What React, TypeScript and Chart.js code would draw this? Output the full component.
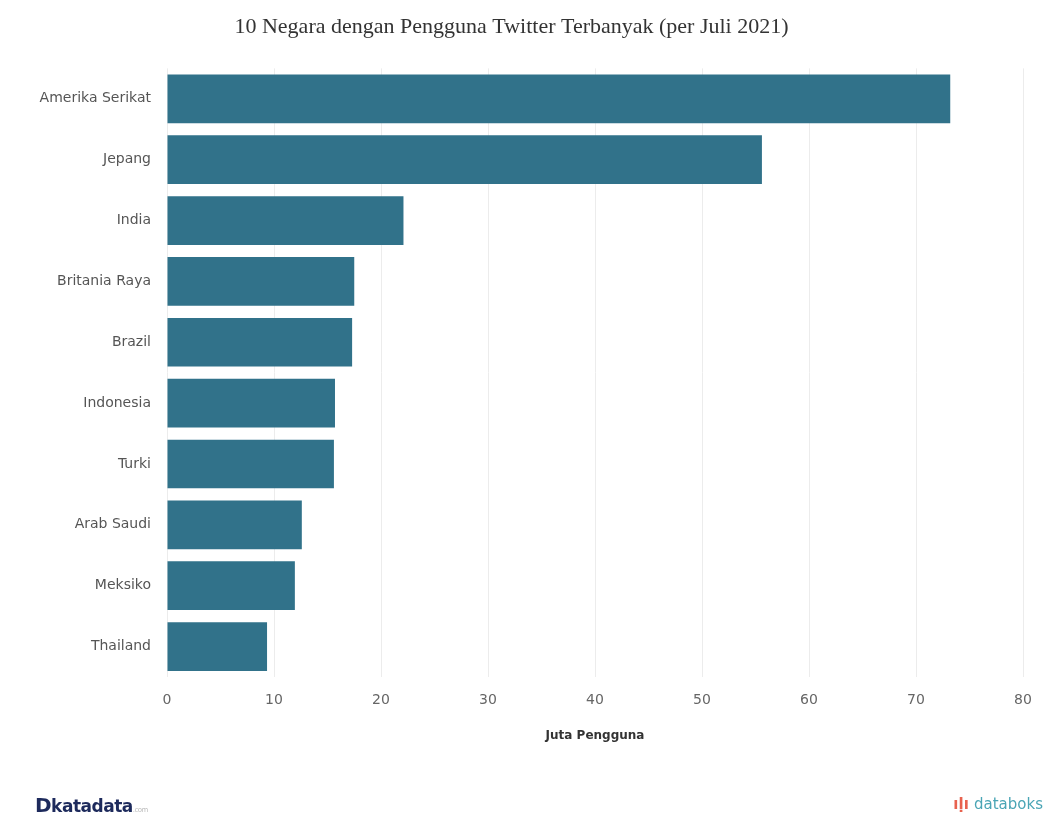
import React, { useEffect, useRef } from "react";
import { Chart, registerables } from "chart.js";

Chart.register(...registerables);

const countries = [
  "Amerika Serikat",
  "Jepang",
  "India",
  "Britania Raya",
  "Brazil",
  "Indonesia",
  "Turki",
  "Arab Saudi",
  "Meksiko",
  "Thailand",
];
const users = [73.2, 55.6, 22.1, 17.5, 17.3, 15.7, 15.6, 12.6, 11.95, 9.35];
const xTicks = [0, 10, 20, 30, 40, 50, 60, 70, 80];

const titleText = "10 Negara dengan Pengguna Twitter Terbanyak (per Juli 2021)";
const axisTitle = "Juta Pengguna";

export default function App() {
  const ref = useRef<HTMLCanvasElement | null>(null);

  useEffect(() => {
    if (!ref.current) return;
    const chart = new Chart(ref.current, {
      type: "bar",
      data: {
        labels: countries,
        datasets: [
          {
            data: users,
            backgroundColor: "#31728a",
            borderWidth: 0,
            barPercentage: 0.8,
            categoryPercentage: 1.0,
          },
        ],
      },
      options: {
        indexAxis: "y",
        animation: false,
        responsive: false,
        maintainAspectRatio: false,
        layout: { padding: { left: 0, right: 25, top: 14, bottom: 57 } },
        plugins: {
          legend: { display: false },
          tooltip: { enabled: false },
          title: {
            display: true,
            text: titleText,
            color: "#333",
            font: { family: "'Liberation Serif', 'DejaVu Serif', serif", size: 22, weight: "normal" },
            padding: { top: 0, bottom: 28 },
          },
        },
        scales: {
          x: {
            min: 0,
            max: 80,
            afterBuildTicks: (s: any) => {
              s.ticks = xTicks.map((v) => ({ value: v }));
            },
            grid: { color: "#ececec", drawTicks: false },
            border: { display: false },
            ticks: {
              color: "#666",
              padding: 15,
              font: { family: "'DejaVu Sans', Verdana, sans-serif", size: 14 },
            },
            title: {
              display: true,
              text: axisTitle,
              color: "#333",
              font: { family: "'DejaVu Sans', Verdana, sans-serif", size: 12, weight: "bold" },
              padding: { top: 20, bottom: 0 },
            },
            afterFit: (s: any) => {
              s.height = 66;
            },
          },
          y: {
            grid: { display: false, drawTicks: false },
            border: { display: false },
            ticks: {
              color: "#555",
              padding: 16,
              font: { family: "'DejaVu Sans', Verdana, sans-serif", size: 14 },
            },
            afterFit: (s: any) => {
              s.width = 167;
            },
          },
        },
      },
    });
    return () => chart.destroy();
  }, []);

  return (
    <div style={{ position: "fixed", left: 0, top: 0, width: 1048, height: 832, background: "#fff" }}>
      <canvas ref={ref} width={1048} height={800} style={{ display: "block" }} />
      <div
        style={{
          position: "absolute",
          left: 35,
          top: 793,
          fontFamily: "'DejaVu Sans', sans-serif",
          fontSize: 17,
          fontWeight: "bold",
          color: "#1d2a5c",
          letterSpacing: -0.5,
        }}
      >
        <span style={{ fontSize: 20 }}>D</span>katadata
        <span style={{ fontSize: 7, color: "#bbb", fontWeight: "normal" }}>.com</span>
      </div>
      <div
        style={{
          position: "absolute",
          right: 5,
          top: 795,
          fontFamily: "'DejaVu Sans', sans-serif",
          fontSize: 15,
          color: "#4aa5b5",
        }}
      >
        <span style={{ color: "#e8624f", fontWeight: "bold" }}>ıḷı </span>databoks
      </div>
    </div>
  );
}
